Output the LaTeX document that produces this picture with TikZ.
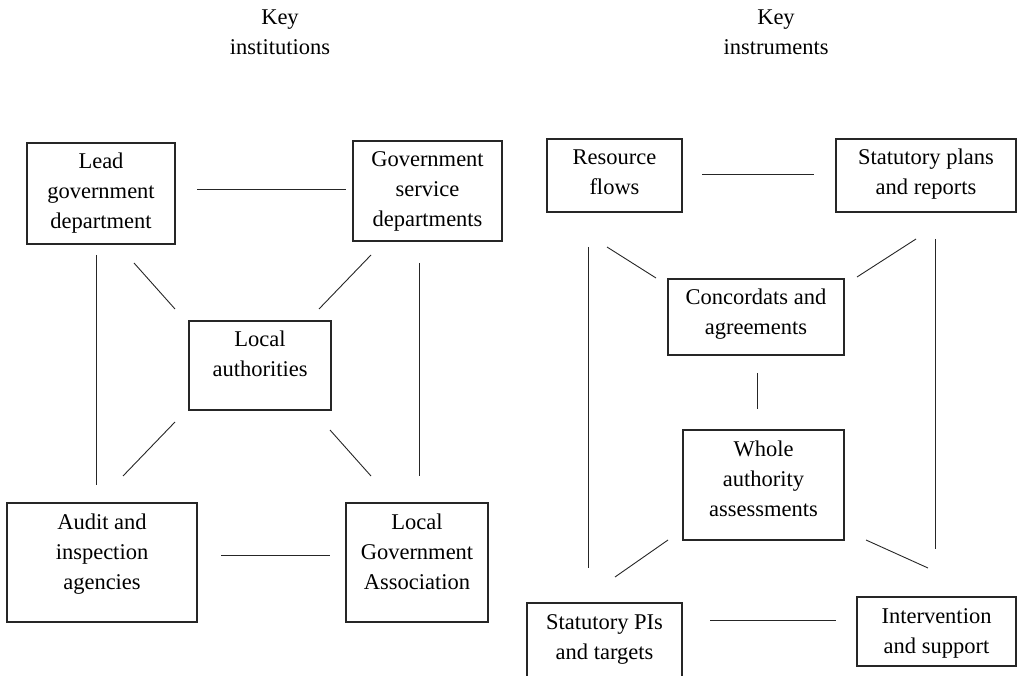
\documentclass[tikz,border=0pt]{standalone}
\usepackage{fontspec}
\setmainfont{Liberation Serif}
\usetikzlibrary{calc}
\newcommand{\mybox}[6]{%
  \node[box] (#1) at (#2,#3) {\parbox[c][#5pt][t]{#4pt}{\centering\rule{0pt}{26pt}#6}};}
\begin{document}
\begin{tikzpicture}[x=1pt,y=-1pt,
  box/.style={draw=black!85,line width=1.1pt,inner sep=0pt,outer sep=0pt},
  link/.style={draw=black!85,line width=0.9pt},
  title/.style={inner sep=0pt,anchor=north,align=center}]
\fontsize{22.5}{30}\selectfont
\useasboundingbox (0,0) rectangle (1018,676);
% titles
\node[title] (t1) at (280,0) {\rule{0pt}{24pt}Key\\institutions};
\node[title] (t2) at (776,0) {\rule{0pt}{24pt}Key\\instruments};
% left boxes
\mybox{lead}{101}{193.5}{148}{101}{Lead\\government\\department}
\mybox{gov}{427.5}{191}{149}{100}{Government\\service\\departments}
\mybox{local}{260}{365.5}{142}{89}{Local\\authorities}
\mybox{audit}{102}{562.5}{190}{119}{Audit and\\inspection\\agencies}
\mybox{lga}{417}{562.5}{142}{119}{Local\\Government\\Association}
% right boxes
\mybox{res}{614.5}{175.5}{135}{73}{Resource\\flows}
\mybox{stat}{926}{175.5}{180}{73}{Statutory plans\\and reports}
\mybox{conc}{756}{317}{176}{76}{Concordats and\\agreements}
\mybox{whole}{763.5}{485}{161}{110}{Whole\\authority\\assessments}
\mybox{pis}{604.5}{641.5}{155}{77}{Statutory PIs\\and targets}
\mybox{int}{936.5}{631.5}{159}{69}{Intervention\\and support}
% left connectors
\draw[link] ([shift={(22,-4.5)}]lead.east) -- ([shift={(-7,-2)}]gov.west);
\draw[link] ([shift={(-5,11)}]lead.south) -- ([shift={(-6,-18)}]audit.north);
\draw[link] ([shift={(-8.5,22)}]gov.south) -- ([shift={(2,-27)}]lga.north);
\draw[link] ([shift={(-41,19)}]lead.south east) -- ([shift={(-14,-12)}]local.north west);
\draw[link] ([shift={(18,14)}]gov.south west) -- ([shift={(-12,-12)}]local.north east);
\draw[link] ([shift={(-14,12)}]local.south west) -- ([shift={(-74,-27)}]audit.north east);
\draw[link] ([shift={(-1,20)}]local.south east) -- ([shift={(25,-27)}]lga.north west);
\draw[link] ([shift={(24,-7.5)}]audit.east) -- ([shift={(-16,-7.5)}]lga.west);
% right connectors
\draw[link] ([shift={(20,-1.5)}]res.east) -- ([shift={(-22,-1.5)}]stat.west);
\draw[link] ([shift={(-26.5,35)}]res.south) -- ([shift={(-16.5,-35)}]pis.north);
\draw[link] ([shift={(-7.5,35)}]res.south) -- ([shift={(-12,-1)}]conc.north west);
\draw[link] ([shift={(-10,27)}]stat.south) -- ([shift={(13,-2)}]conc.north east);
\draw[link] ([shift={(9,27)}]stat.south) -- ([shift={(-1.5,-48)}]int.north);
\draw[link] ([shift={(1,18)}]conc.south) -- ([shift={(-6.5,-21)}]whole.north);
\draw[link] ([shift={(-15,0)}]whole.south west) -- ([shift={(-67,-26)}]pis.north east);
\draw[link] ([shift={(22,0)}]whole.south east) -- ([shift={(71,-29)}]int.north west);
\draw[link] ([shift={(28,-21.5)}]pis.east) -- ([shift={(-21,-11.5)}]int.west);
\end{tikzpicture}
\end{document}
